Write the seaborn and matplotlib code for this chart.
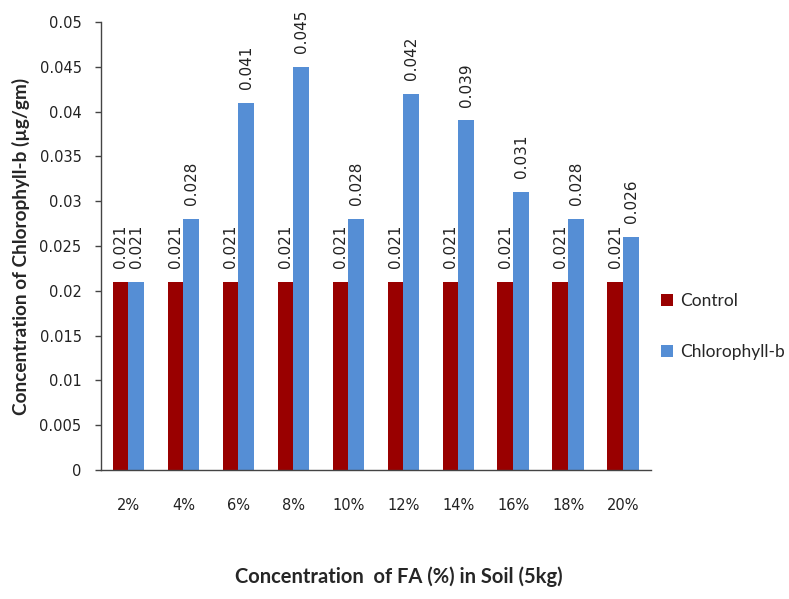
import pandas as pd
import matplotlib
matplotlib.use("Agg")
import matplotlib.pyplot as plt
import seaborn as sns

categories = ["2%", "4%", "6%", "8%", "10%", "12%", "14%", "16%", "18%", "20%"]
control = [0.021, 0.021, 0.021, 0.021, 0.021, 0.021, 0.021, 0.021, 0.021, 0.021]
chlorophyll_b = [0.021, 0.028, 0.041, 0.045, 0.028, 0.042, 0.039, 0.031, 0.028, 0.026]

df = pd.DataFrame({
    "FA": categories * 2,
    "value": control + chlorophyll_b,
    "series": ["Control"] * len(categories) + ["Chlorophyll-b"] * len(categories),
})

sns.set_theme(style="white")
plt.rcParams["font.family"] = ["Lato", "DejaVu Sans"]

fig = plt.figure(figsize=(7.89, 5.99), dpi=100)
ax = fig.add_axes([0.128, 0.2154, 0.697, 0.748])

colors = {"Control": "#990000", "Chlorophyll-b": "#558ED5"}
sns.barplot(data=df, x="FA", y="value", hue="series", palette=colors,
            width=0.58, dodge=True, ax=ax, saturation=1, linewidth=0, legend=True)

for container in ax.containers:
    ax.bar_label(container, fmt="%.3f", rotation=90, padding=10,
                 fontsize=11, color="#222222", family="DejaVu Sans")

ax.set_ylim(0, 0.05)
ax.set_xlim(-0.5, 9.5)
ax.set_yticks([i * 0.005 for i in range(11)])
ax.set_yticklabels(["0"] + [f"{i * 0.005:g}" for i in range(1, 11)])

# tick marks on category boundaries, labels at centres
ax.set_xticks([i - 0.5 for i in range(11)], minor=True)
ax.tick_params(axis="x", which="minor", length=5, width=1, color="#444444", direction="out")
ax.tick_params(axis="x", which="major", length=0, pad=20, labelsize=10.5, labelcolor="#222222")
ax.tick_params(axis="y", length=4.5, width=1, color="#444444", direction="out", pad=9.5,
               labelsize=10.5, labelcolor="#222222", left=True)
for lab in ax.get_xticklabels() + ax.get_yticklabels():
    lab.set_family("DejaVu Sans")

for s in ["top", "right"]:
    ax.spines[s].set_visible(False)
for s in ["left", "bottom"]:
    ax.spines[s].set_color("#444444")
    ax.spines[s].set_linewidth(1)

ax.set_xlabel("Concentration  of FA (%) in Soil (5kg)", fontsize=14.5, fontweight="bold")
ax.xaxis.set_label_coords(0.542, -0.215)
ax.set_ylabel("Concentration of Chlorophyll-b (\u00b5g/gm)", fontsize=13.7, fontweight="bold", labelpad=7)

leg = ax.legend(loc="center left", bbox_to_anchor=(0.99, 0.32), frameon=False,
                fontsize=12.5, handlelength=0.7, handleheight=0.7, handletextpad=0.4,
                labelspacing=2.0)

fig.savefig("out.png", dpi=100)
